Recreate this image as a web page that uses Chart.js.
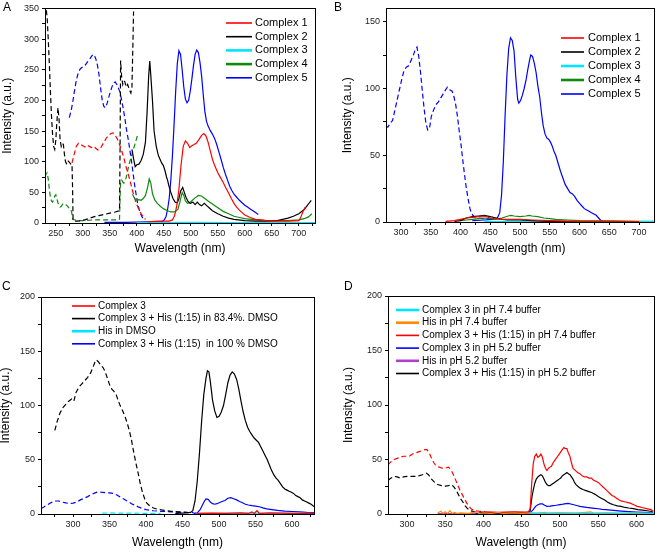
<!DOCTYPE html>
<html><head><meta charset="utf-8">
<script src="https://cdn.jsdelivr.net/npm/chart.js@4/dist/chart.umd.min.js"></script>
<style>
html,body{margin:0;padding:0;background:#fff;}
#wrap{position:relative;width:662px;height:552px;overflow:hidden;}
.pan{position:absolute;width:331px;height:276px;}
.lab{position:absolute;font:12px "Liberation Sans",Arial,sans-serif;color:#000;line-height:14px;}
</style></head><body>
<div id="wrap">
<div class="pan" style="left:0;top:0"><canvas id="cA" width="331" height="276"></canvas></div>
<div class="pan" style="left:331px;top:0"><canvas id="cB" width="331" height="276"></canvas></div>
<div class="pan" style="left:0;top:276px"><canvas id="cC" width="331" height="276"></canvas></div>
<div class="pan" style="left:331px;top:276px"><canvas id="cD" width="331" height="276"></canvas></div>
<div class="lab" style="left:3px;top:0px">A</div>
<div class="lab" style="left:334px;top:0px">B</div>
<div class="lab" style="left:2px;top:279px">C</div>
<div class="lab" style="left:344px;top:279px">D</div>
</div>
<script>
// ---------- tick values ----------
const A_xTicks = [250,275,300,325,350,375,400,425,450,475,500,525,550,575,600,625,650,675,700,725];
const A_yTicks = [0,25,50,75,100,125,150,175,200,225,250,275,300,325,350];
const B_xTicks = [300,325,350,375,400,425,450,475,500,525,550,575,600,625,650,675,700];
const B_yTicks = [0,25,50,75,100,125,150];
const C_xTicks = [275,300,325,350,375,400,425,450,475,500,525,550,575,600,625];
const C_yTicks = [0,25,50,75,100,125,150,175,200];
const D_xTicks = [300,325,350,375,400,425,450,475,500,525,550,575,600];
const D_yTicks = [0,25,50,75,100,125,150,175,200];

// ---------- panel A series (wavelength nm, intensity a.u.) ----------
const A_c1_ex = [[280,98],[284,112],[288,125],[292,130],[296,128],[300,126],[304,124],[308,127],[312,125],[316,123],[320,125],[324,122],[328,119],[332,121],[336,127],[340,133],[344,139],[348,143],[352,146],[356,147],[360,143],[364,137],[368,128],[372,118],[376,106],[380,92],[384,80],[388,67],[392,53],[396,40],[400,30],[404,22],[408,15],[412,10],[416,6]];
const A_c1_em = [[420,2],[440,3],[460,3],[466,5],[470,12],[474,28],[478,55],[482,95],[486,125],[490,134],[494,130],[498,123],[502,126],[506,128],[510,130],[515,136],[520,143],[524,146],[528,142],[532,132],[536,118],[540,104],[545,92],[550,82],[555,74],[560,66],[565,57],[570,49],[575,40],[580,32],[585,26],[590,21],[595,17],[600,13],[610,9],[620,6],[630,5],[640,4],[660,3],[680,3],[700,4],[703,8],[707,17],[712,26]];
const A_c2_ex = [[231,360],[234,335],[236,300],[238,260],[240,215],[242,175],[244,145],[246,125],[248,120],[250,135],[252,165],[254,188],[256,170],[258,135],[260,125],[262,130],[264,128],[266,112],[268,100],[270,97],[272,102],[274,100],[276,98],[278,96],[280,96],[281,60],[282,5],[286,3],[290,3],[300,4],[310,7],[320,10],[330,12],[340,14],[350,16],[360,18],[368,20],[369,120],[370,265],[372,238],[374,226],[376,232],[378,230],[380,222],[383,226],[386,218],[389,212],[391,222],[393,300],[394,345]];
const A_c2_em = [[391,120],[394,105],[397,92],[400,95],[404,96],[408,102],[412,112],[416,132],[419,180],[422,240],[424,264],[426,240],[429,200],[432,150],[436,125],[440,110],[443,104],[446,98],[449,94],[452,86],[455,75],[457,70],[459,62],[461,56],[463,50],[467,40],[471,34],[475,33],[478,40],[481,52],[485,58],[488,50],[491,42],[495,35],[499,32],[504,34],[508,30],[512,34],[516,30],[520,28],[525,32],[530,28],[535,24],[540,20],[550,15],[560,11],[570,8],[580,6],[600,4],[620,3],[640,3],[660,4],[680,8],[690,11],[700,15],[710,22],[718,31],[723,37]];
const A_c3_em = [[400,0.5],[450,0.8],[480,1],[520,1],[560,0.8],[600,0.6],[650,0.6],[700,0.5],[730,0.5]];
const A_c4_ex = [[230,75],[232,80],[234,82],[236,72],[238,55],[240,42],[242,36],[244,34],[246,38],[248,44],[250,46],[252,40],[254,33],[256,28],[258,26],[260,27],[262,30],[264,32],[266,31],[268,30],[270,29],[272,27],[274,25],[276,24],[278,22],[280,15],[281,6],[290,4],[300,4],[320,5],[340,5],[360,5],[368,6],[369,40],[370,68],[372,70],[374,67],[376,65],[378,68],[380,73],[383,85],[386,97],[389,106],[392,115],[395,124],[398,133],[401,142],[403,145]];
const A_c4_em = [[392,47],[396,40],[400,37],[404,38],[408,37],[412,40],[416,45],[420,58],[423,72],[426,65],[429,48],[433,38],[438,32],[444,27],[450,23],[457,20],[463,18],[470,18],[476,22],[480,35],[484,50],[487,45],[490,36],[494,32],[498,33],[503,37],[508,41],[514,45],[520,44],[526,40],[532,36],[540,31],[550,25],[560,19],[570,15],[580,11],[590,9],[600,7],[620,5],[640,4],[660,4],[680,4],[700,5],[710,7],[718,10],[724,15]];
const A_c5_ex = [[275,172],[278,182],[281,195],[284,212],[287,228],[290,240],[293,248],[296,252],[299,254],[302,256],[305,258],[308,262],[311,265],[314,269],[317,273],[320,275],[322,272],[324,268],[327,258],[330,242],[333,220],[336,200],[339,190],[342,188],[345,195],[348,205],[351,214],[354,222],[357,228],[360,230],[363,226],[366,220],[369,213],[372,200],[375,186],[378,170],[381,152],[384,137],[387,120],[390,102],[393,82],[396,62],[399,45],[402,30],[405,20],[408,13],[411,8],[414,4]];
const A_c5_em = [[340,1],[380,1],[420,2],[445,2],[450,4],[454,10],[457,22],[460,40],[463,70],[466,110],[469,160],[472,215],[475,260],[478,281],[481,275],[484,250],[487,222],[490,202],[493,196],[496,200],[499,215],[502,235],[505,257],[508,275],[511,282],[514,278],[517,262],[520,240],[523,210],[526,182],[529,166],[532,158],[536,151],[540,145],[544,138],[548,128],[552,116],[556,104],[560,91],[564,80],[568,70],[572,60],[576,53],[580,47],[585,42],[590,37],[595,33],[600,29],[605,26],[610,23],[615,20],[620,17],[625,14]];

// ---------- panel B series ----------
const B_c1_em = [[375,0.5],[390,1],[400,2],[410,3],[420,3.5],[430,4],[440,4.5],[450,3],[460,2.5],[470,2],[480,2],[500,2],[520,1.5],[550,1],[600,0.5],[650,0.5],[700,0.3]];
const B_c2_em = [[390,0.5],[400,1],[410,3],[420,4],[430,4.5],[440,5],[450,4],[460,3],[470,2],[480,1.5],[500,1.5],[520,1],[550,0.5],[600,0.3]];
const B_c3_em = [[440,0.3],[500,0.4],[560,0.4],[620,0.3],[680,0.3],[725,0.3]];
const B_c4_em = [[400,1],[410,1.5],[420,2],[430,2.5],[440,3],[450,2.5],[460,2],[470,3],[480,4.5],[485,5],[490,4.5],[500,4],[510,4.5],[515,5],[520,4.5],[530,4],[540,3],[550,2.5],[560,2],[580,1.5],[600,1],[650,0.8],[700,0.5],[725,0.5]];
const B_c5_ex = [[275,72],[278,71],[282,74],[286,76],[290,84],[294,92],[298,100],[302,108],[305,113],[309,116],[313,117],[317,121],[321,125],[324,129],[327,131],[330,124],[333,112],[336,98],[339,85],[342,74],[345,69],[348,70],[351,79],[355,84],[359,88],[363,90],[367,93],[371,96],[375,99],[378,101],[382,99],[386,98],[389,94],[392,88],[395,79],[398,68],[401,58],[404,46],[407,35],[410,25],[413,17],[416,10],[419,6],[423,4],[430,3],[440,2.5],[450,2]];
const B_c5_em = [[420,1],[440,1.5],[455,2],[462,3],[466,7],[469,20],[472,45],[475,80],[478,110],[481,130],[484,138],[487,136],[490,128],[493,108],[496,92],[498,89],[501,91],[504,95],[507,100],[510,106],[513,114],[516,121],[518,125],[521,124],[524,119],[527,112],[530,102],[533,94],[536,82],[539,72],[542,66],[545,63],[548,62],[551,60],[554,57],[557,53],[560,50],[564,44],[568,38],[572,33],[576,28],[580,25],[584,22],[588,21],[592,19],[596,16],[600,14],[604,12],[608,10],[612,9],[616,8],[620,7],[624,6],[628,5],[632,3],[636,1],[640,0.8]];

// ---------- panel C series ----------
const C_c3 = [[470,0.5],[490,0.8],[510,0.5],[530,1],[540,0.5],[545,2],[548,0.5],[552,3],[555,0.5],[570,1],[600,0.5],[630,0.5]];
const C_mix83_ex = [[275,77],[278,85],[282,93],[286,98],[290,101],[294,104],[298,106],[301,104],[304,112],[308,117],[312,120],[316,123],[320,126],[324,130],[327,135],[330,140],[332,142],[335,140],[338,137],[341,135],[344,131],[347,125],[350,119],[353,115],[356,113],[359,110],[362,104],[365,99],[368,95],[371,90],[374,84],[377,77],[380,68],[383,57],[386,47],[389,38],[392,28],[395,20],[398,14],[401,10],[405,7.5],[410,5.5],[416,4.3],[425,3.3],[435,2.5],[445,2],[455,1.5],[462,1.2]];
const C_mix83_em = [[440,0.5],[455,1],[461,1.5],[464,3],[467,12],[470,30],[473,55],[476,85],[479,110],[482,125],[484,132],[486,131],[488,122],[491,105],[494,95],[497,89],[500,90],[503,94],[506,100],[509,110],[512,121],[515,128],[518,131],[521,129],[524,124],[527,115],[530,104],[533,94],[536,86],[539,80],[542,76],[545,73],[548,70],[551,68],[554,66],[557,62],[560,58],[563,54],[566,50],[569,45],[572,40],[575,36],[578,33],[581,31],[584,28],[587,25],[590,23],[593,22],[596,21],[599,20],[602,19],[605,17],[608,16],[611,15],[614,13],[617,12],[620,11],[623,10],[626,9],[630,7]];
const C_his_ex = [[340,0.8],[350,1],[360,0.8],[380,0.8],[400,0.6],[420,0.5]];
const C_his_em = [[470,0.5],[520,0.8],[560,0.6],[600,0.8],[630,0.6]];
const C_mix100_ex = [[256,5],[260,6.5],[265,8.5],[270,10.5],[275,12],[280,12],[285,11],[290,10.2],[295,9.8],[300,10],[305,11],[310,13],[315,14.5],[320,16],[325,18],[330,19.5],[335,20.5],[340,20],[345,19.5],[350,19.5],[355,19],[360,17.5],[365,15.5],[370,13.5],[375,11.5],[380,9.5],[385,8],[390,6.3],[395,5],[400,4],[410,3],[420,2.5],[435,2],[450,1.5],[465,1.2]];
const C_mix100_em = [[465,0.5],[470,1],[474,4],[477,8],[480,12],[482,14],[485,13.5],[488,11],[491,9.5],[494,9],[497,9.5],[500,10.4],[504,11.5],[508,12.5],[512,14.5],[516,15],[520,14],[524,13],[528,11.5],[532,10.4],[536,9],[540,8.3],[545,7.7],[550,7.2],[555,6.7],[560,5.6],[565,4.8],[570,4.3],[580,3.3],[590,2.7],[600,2.3],[610,2],[620,1.5],[630,1.2]];

// ---------- panel D series ----------
const D_c3_74 = [[460,0.5],[500,0.8],[560,0.8],[600,0.8],[623,0.5]];
const D_his_74 = [[340,1],[344,2.5],[347,0.5],[350,2],[353,0.5],[356,3],[359,0.5],[362,1.5],[366,0.5],[370,1],[380,0.5],[390,2],[394,0.5],[400,1],[410,0.5],[420,1.5],[425,0.5],[440,1],[450,0.5],[460,1],[470,0.5],[480,1.5],[485,0.5],[500,1],[520,0.5],[540,2],[545,0.5],[560,1],[580,0.5],[600,1],[623,0.5]];
const D_mix74_ex = [[275,45],[279,48],[283,50],[287,51],[291,52],[295,53],[299,53],[303,53],[307,55],[311,56],[315,57],[319,58],[323,59],[326,59],[329,56],[332,51],[335,47],[338,44],[342,43],[346,42],[350,42],[354,43],[357,41],[360,37],[363,32],[366,27],[369,22],[372,18],[375,14],[378,10],[381,7],[384,4.5],[388,3],[395,2.5],[402,2]];
const D_mix74_em = [[400,2],[420,1.5],[440,2],[455,1.5],[459,2],[461,5],[463,28],[465,46],[467,53],[469,55],[471,52],[473,53],[475,55],[477,52],[479,46],[481,42],[483,40],[485,42],[487,43],[489,44],[491,47],[493,49],[495,51],[497,53],[499,55],[501,57],[503,59],[505,61],[507,60],[509,60],[511,56],[513,53],[515,47],[517,42],[520,40],[523,38],[526,37],[529,35],[532,34],[535,34],[538,33],[541,33],[544,31],[547,30],[550,29],[553,27],[556,25],[559,23],[562,21],[565,19],[568,17],[571,16],[574,14.5],[577,13],[580,12],[583,11.5],[586,11],[589,10.5],[592,10],[595,9],[598,8],[601,7],[604,6.5],[607,6],[610,5.5],[613,5],[616,4.5],[619,4],[622,2.5]];
const D_c3_52 = [[390,0.5],[430,0.5],[458,0.8],[462,2],[465,4],[468,7],[471,8.5],[474,9.2],[477,9.2],[480,8],[483,7],[487,7.3],[491,7.7],[495,8],[500,8.6],[504,9],[508,9.5],[511,9.7],[514,9.2],[518,8.5],[522,7.8],[526,7],[530,6.6],[535,6],[540,5.6],[545,5.2],[550,4.8],[555,4.3],[560,4],[570,3.3],[580,2.7],[590,2.2],[600,1.8],[610,1.5],[622,1]];
const D_his_52 = [[340,0.3],[400,0.3],[460,0.5],[500,0.5],[560,0.3],[623,0.3]];
const D_mix52_ex = [[275,31],[279,33],[283,34.5],[287,34],[291,33],[295,34],[300,34.5],[305,34.5],[310,34.5],[315,35],[320,36],[325,37.5],[328,36],[332,32],[336,29],[340,27],[345,26],[350,25.5],[354,26],[358,27],[361,25],[364,22],[367,18],[370,14],[373,11],[376,7.5],[379,5],[383,3],[390,2],[400,1.5]];
const D_mix52_em = [[395,1.5],[420,1.2],[440,1.5],[458,1.5],[461,3],[463,14],[465,22],[467,28],[469,32],[471,34],[473,35],[475,36],[477,35],[479,32],[481,29],[483,27],[485,26],[487,26],[489,27],[491,28],[493,29],[495,30],[497,31],[499,32],[501,33],[503,35],[505,36],[507,37],[509,38],[511,37],[513,36],[515,34],[517,32],[519,29],[521,27],[524,25],[527,23.5],[530,22.5],[534,21.5],[538,20.5],[542,19.5],[546,18],[550,16],[554,14.5],[558,13],[562,11],[566,9.5],[570,8.5],[575,7.5],[580,7],[585,6],[590,5.5],[596,5],[602,4],[608,3.5],[614,3],[618,2.5],[622,1.8]];

// ---------- colours ----------
const RED='#ff0000', BLACK='#000000', CYAN='#00e5ff', GREEN='#0f8a0f', BLUE='#0000ff', ORANGE='#ff8c00', PURPLE='#b040d0';
const FONT='"Liberation Sans", Arial, Helvetica, sans-serif';

function ser(label, pts, color, extra){
  return Object.assign({label:label, data:pts.map(p=>({x:p[0],y:p[1]})), borderColor:color, backgroundColor:color,
    borderWidth:1.2, pointRadius:0, fill:false, tension:0}, extra||{});
}
const DASH = {borderDash:[5,3], noLegend:true};

const framePlugin = {
  id:'boxLegend',
  afterDraw(chart, args, o){
    const ctx = chart.ctx, a = chart.chartArea;
    ctx.save();
    ctx.strokeStyle='#000'; ctx.lineWidth=1; ctx.setLineDash([]);
    ctx.strokeRect(Math.round(a.left)+0.5, Math.round(a.top)+0.5, Math.round(a.right-a.left), Math.round(a.bottom-a.top));
    ctx.font = o.size+'px '+FONT;
    ctx.textBaseline='middle'; ctx.textAlign='left';
    let y = o.y;
    chart.data.datasets.forEach(ds=>{
      if (ds.noLegend) return;
      ctx.strokeStyle = ds.borderColor; ctx.lineWidth = ds.legendWidth || 1.6;
      ctx.beginPath(); ctx.moveTo(o.x, y); ctx.lineTo(o.x+o.len, y); ctx.stroke();
      ctx.fillStyle='#000'; ctx.fillText(ds.label, o.x+o.len+o.gap, y);
      y += o.row;
    });
    ctx.restore();
  }
};

function makeChart(id, c){
  return new Chart(document.getElementById(id), {
    type:'line',
    data:{datasets:c.datasets},
    plugins:[framePlugin],
    options:{
      responsive:false, animation:false, events:[],
      layout:{padding:c.pad},
      plugins:{legend:{display:false}, tooltip:{enabled:false}, boxLegend:c.legend},
      scales:{
        x:{type:'linear', min:c.xMin, max:c.xMax,
          afterBuildTicks:s=>{ s.ticks = c.xTicks.map(v=>({value:v})); },
          afterFit:s=>{ s.height = c.xH; },
          ticks:{autoSkip:false, maxRotation:0, minRotation:0, padding:2, color:'#222', font:{family:FONT, size:9},
            callback:v=> (v%50===0 ? String(v) : '')},
          grid:{drawOnChartArea:false, drawTicks:true, tickLength:3, color:'#000'},
          border:{display:true, color:'#000'},
          title:{display:true, text:'Wavelength (nm)', color:'#000', font:{family:FONT, size:12, lineHeight:1}, padding:{top:0, bottom:c.xTP}}
        },
        y:{type:'linear', min:c.yMin, max:c.yMax,
          afterBuildTicks:s=>{ s.ticks = c.yTicks.map(v=>({value:v})); },
          afterFit:s=>{ s.width = c.yW; },
          ticks:{autoSkip:false, padding:3, color:'#222', font:{family:FONT, size:9},
            callback:v=> (v%50===0 ? String(v) : '')},
          grid:{drawOnChartArea:false, drawTicks:true, tickLength:3, color:'#000'},
          border:{display:true, color:'#000'},
          title:{display:true, text:'Intensity (a.u.)', color:'#000', font:{family:FONT, size:12, lineHeight:1}, padding:{top:c.yTP, bottom:0}}
        }
      }
    }
  });
}

makeChart('cA', {
  xMin:230, xMax:730, yMin:0, yMax:350, xTicks:A_xTicks, yTicks:A_yTicks,
  pad:{left:0, top:6, right:16, bottom:0}, yW:45, xH:53, xTP:21, yTP:2,
  legend:{x:226, y:23, len:26, gap:3, row:13.7, size:11},
  datasets:[
    ser('Complex 1', A_c1_em, RED),
    ser('Complex 2', A_c2_em, BLACK),
    ser('Complex 3', A_c3_em, CYAN, {legendWidth:2.6}),
    ser('Complex 4', A_c4_em, GREEN, {legendWidth:2.6}),
    ser('Complex 5', A_c5_em, BLUE),
    ser('Complex 1', A_c1_ex, RED, DASH),
    ser('Complex 2', A_c2_ex, BLACK, DASH),
    ser('Complex 4', A_c4_ex, GREEN, DASH),
    ser('Complex 5', A_c5_ex, BLUE, DASH)
  ]
});

makeChart('cB', {
  xMin:275, xMax:725, yMin:0, yMax:160, xTicks:B_xTicks, yTicks:B_yTicks,
  pad:{left:0, top:6, right:8, bottom:0}, yW:55, xH:54, xTP:21, yTP:11,
  legend:{x:230, y:38, len:23, gap:4, row:14, size:11},
  datasets:[
    ser('Complex 1', B_c1_em, RED),
    ser('Complex 2', B_c2_em, BLACK),
    ser('Complex 3', B_c3_em, CYAN, {legendWidth:2.6}),
    ser('Complex 4', B_c4_em, GREEN, {legendWidth:2.6}),
    ser('Complex 5', B_c5_em, BLUE),
    ser('Complex 5', B_c5_ex, BLUE, DASH)
  ]
});

makeChart('cC', {
  xMin:256, xMax:630, yMin:0, yMax:200, xTicks:C_xTicks, yTicks:C_yTicks,
  pad:{left:0, top:21, right:17, bottom:0}, yW:41, xH:38, xTP:3, yTP:0,
  legend:{x:72, y:30, len:23, gap:3, row:12.6, size:10},
  datasets:[
    ser('Complex 3', C_c3, RED),
    ser('Complex 3 + His (1:15) in 83.4%. DMSO', C_mix83_em, BLACK),
    ser('His in DMSO', C_his_em, CYAN, {legendWidth:2.6}),
    ser('Complex 3 + His (1:15)  in 100 % DMSO', C_mix100_em, BLUE),
    ser('Complex 3 + His (1:15) in 83.4%. DMSO', C_mix83_ex, BLACK, DASH),
    ser('His in DMSO', C_his_ex, CYAN, DASH),
    ser('Complex 3 + His (1:15)  in 100 % DMSO', C_mix100_ex, BLUE, DASH)
  ]
});

makeChart('cD', {
  xMin:275, xMax:623, yMin:0, yMax:200, xTicks:D_xTicks, yTicks:D_yTicks,
  pad:{left:0, top:20, right:8, bottom:0}, yW:57, xH:38, xTP:3, yTP:12,
  legend:{x:65, y:34, len:23, gap:3, row:12.7, size:10},
  datasets:[
    ser('Complex 3 in pH 7.4 buffer', D_c3_74, CYAN, {legendWidth:2.6}),
    ser('His in pH 7.4 buffer', D_his_74, ORANGE, {legendWidth:2.6}),
    ser('Complex 3 + His (1:15) in pH 7.4 buffer', D_mix74_em, RED),
    ser('Complex 3 in pH 5.2 buffer', D_c3_52, BLUE),
    ser('His in pH 5.2 buffer', D_his_52, PURPLE, {legendWidth:2.6}),
    ser('Complex 3 + His (1:15) in pH 5.2 buffer', D_mix52_em, BLACK),
    ser('Complex 3 + His (1:15) in pH 7.4 buffer', D_mix74_ex, RED, DASH),
    ser('Complex 3 + His (1:15) in pH 5.2 buffer', D_mix52_ex, BLACK, DASH)
  ]
});
</script>
</body></html>
